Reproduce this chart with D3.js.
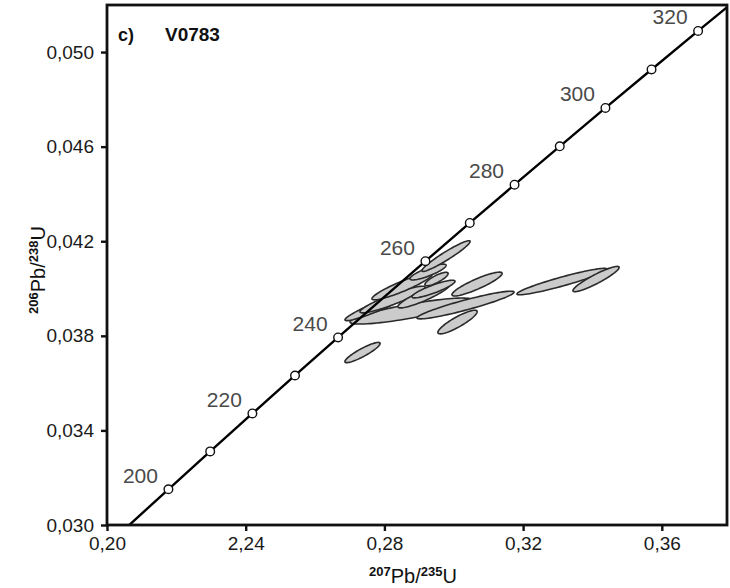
<!DOCTYPE html>
<html>
<head>
<meta charset="utf-8">
<script src="https://cdn.jsdelivr.net/npm/d3@7"></script>
<style>
  html, body { margin: 0; padding: 0; background: #fff; }
  svg { display: block; font-family: "Liberation Sans", Arial, sans-serif; }
</style>
</head>
<body>
<svg id="chart" width="730" height="588"></svg>
<script>
// ---- data ----
const xTicks = [0.20, 0.24, 0.28, 0.32, 0.36];
const xTickLabels = ["0,20", "2,24", "0,28", "0,32", "0,36"];
const yTicks = [0.030, 0.034, 0.038, 0.042, 0.046, 0.050];
const yTickLabels = ["0,030", "0,034", "0,038", "0,042", "0,046", "0,050"];

// concordia (ages in Ma and the matching ratios)
const concAges = [190, 200, 210, 220, 230, 240, 250, 260, 270, 280, 290, 300, 310, 320, 330];
const concX = [0.20578, 0.21771, 0.22976, 0.24193, 0.25422, 0.26664, 0.27917, 0.29183, 0.30462, 0.31753, 0.33057, 0.34374, 0.35704, 0.37047, 0.38403];
const concY = [0.029913, 0.031511, 0.033113, 0.034717, 0.036323, 0.037932, 0.039543, 0.041157, 0.042773, 0.044392, 0.046014, 0.047638, 0.049264, 0.050893, 0.052524];
const hiddenMarkerAges = [250];
const markerAges = [200, 210, 220, 230, 240, 260, 270, 280, 290, 300, 310, 320];
const labelAges = [200, 220, 240, 260, 280, 300, 320];

// analyses: 207Pb/235U, 206Pb/238U, 2s errors and error correlation
const ellX   = [0.28767, 0.30339, 0.27830, 0.28234, 0.28508, 0.29142, 0.29416, 0.29258, 0.29503, 0.29777, 0.30671, 0.30108, 0.27369, 0.33122, 0.34103];
const ellY   = [0.039048, 0.039302, 0.039259, 0.039534, 0.040084, 0.039703, 0.039978, 0.040697, 0.040401, 0.041373, 0.040189, 0.038583, 0.037293, 0.040295, 0.040401];
const ellSX  = [0.017595, 0.013993, 0.009673, 0.009387, 0.008669, 0.007521, 0.006215, 0.005209, 0.003348, 0.006948, 0.007233, 0.005667, 0.005076, 0.012984, 0.006659];
const ellSY  = [0.000549, 0.000586, 0.000617, 0.000564, 0.000563, 0.000523, 0.000373, 0.000335, 0.000285, 0.000650, 0.000504, 0.000500, 0.000428, 0.000559, 0.000535];
const ellRho = [0.836, 0.928, 0.943, 0.916, 0.914, 0.897, 0.877, 0.842, 0.816, 0.952, 0.890, 0.877, 0.895, 0.936, 0.917];

// ---- drawing ----
const svg = d3.select("#chart");
const pL = 107, pR = 727, pT = 5, pB = 525;
const x = d3.scaleLinear().domain([0.20, 0.3788]).range([pL, pR]);
const y = d3.scaleLinear().domain([0.030, 0.05199]).range([pB, pT]);

svg.append("defs").append("clipPath").attr("id", "clip")
  .append("rect").attr("x", pL).attr("y", pT)
  .attr("width", pR - pL).attr("height", pB - pT);

const plot = svg.append("g").attr("clip-path", "url(#clip)");

function drawMarkers(ages) {
  ages.forEach(a => {
    const i = concAges.indexOf(a);
    plot.append("circle").attr("cx", x(concX[i])).attr("cy", y(concY[i])).attr("r", 4.3)
      .attr("fill", "#fff").attr("stroke", "#111").attr("stroke-width", 1.4);
  });
}

// marker covered by the analyses
drawMarkers(hiddenMarkerAges);

// ellipses
const nSeg = 90;
const ellLine = d3.line().x(d => x(d[0])).y(d => y(d[1])).curve(d3.curveLinearClosed);
ellX.forEach((cx, i) => {
  const sx = ellSX[i], sy = ellSY[i], r = ellRho[i], cy = ellY[i];
  const pts = d3.range(nSeg).map(k => {
    const t = 2 * Math.PI * k / nSeg;
    return [cx + sx * Math.cos(t), cy + sy * (r * Math.cos(t) + Math.sqrt(1 - r * r) * Math.sin(t))];
  });
  plot.append("path").attr("d", ellLine(pts))
    .attr("fill", "#cbcbcb").attr("stroke", "#2a2a2a").attr("stroke-width", 1.6);
});

// concordia curve
const concLine = d3.line().x((d, i) => x(concX[i])).y((d, i) => y(concY[i])).curve(d3.curveMonotoneX);
plot.append("path").attr("d", concLine(concAges))
  .attr("fill", "none").attr("stroke", "#000").attr("stroke-width", 2.4);

drawMarkers(markerAges);

// age labels
labelAges.forEach(a => {
  const i = concAges.indexOf(a);
  svg.append("text").attr("x", x(concX[i]) - 28).attr("y", y(concY[i]) - 14)
    .attr("text-anchor", "middle").attr("dominant-baseline", "central")
    .attr("font-size", 21).attr("fill", "#4a4a4a").text(String(a));
});

// axes
const xAxis = d3.axisBottom(x).tickValues(xTicks).tickSize(6).tickPadding(6)
  .tickFormat((d, i) => xTickLabels[i]);
const yAxis = d3.axisLeft(y).tickValues(yTicks).tickSize(6).tickPadding(7)
  .tickFormat((d, i) => yTickLabels[i]);

const gx = svg.append("g").attr("transform", `translate(0,${pB})`).call(xAxis);
const gy = svg.append("g").attr("transform", `translate(${pL},0)`).call(yAxis);
[gx, gy].forEach(g => {
  g.select(".domain").remove();
  g.selectAll(".tick line").attr("stroke", "#111").attr("stroke-width", 2.4);
  g.selectAll(".tick text").attr("font-size", 19).attr("fill", "#1a1a1a")
    .attr("font-family", "'Liberation Sans', Arial, sans-serif");
});

// frame
svg.append("rect").attr("x", pL).attr("y", pT)
  .attr("width", pR - pL).attr("height", pB - pT)
  .attr("fill", "none").attr("stroke", "#111").attr("stroke-width", 2.8);

// panel labels
svg.append("text").attr("x", 118).attr("y", 41).attr("font-size", 18)
  .attr("font-weight", "bold").attr("fill", "#111").text("c)");
svg.append("text").attr("x", 165).attr("y", 41).attr("font-size", 19)
  .attr("font-weight", "bold").attr("fill", "#111").text("V0783");

// axis titles
const xt = svg.append("text").attr("x", 413).attr("y", 583)
  .attr("text-anchor", "middle").attr("font-size", 20).attr("fill", "#111");
xt.append("tspan").attr("font-size", 13).attr("font-weight", "bold").attr("dy", -7).text("207");
xt.append("tspan").attr("dy", 7).text("Pb/");
xt.append("tspan").attr("font-size", 13).attr("font-weight", "bold").attr("dy", -7).text("235");
xt.append("tspan").attr("dy", 7).text("U");

const yt = svg.append("text").attr("transform", "translate(45,270) rotate(-90)")
  .attr("text-anchor", "middle").attr("font-size", 20).attr("fill", "#111");
yt.append("tspan").attr("font-size", 13).attr("font-weight", "bold").attr("dy", -7).text("206");
yt.append("tspan").attr("dy", 7).text("Pb/");
yt.append("tspan").attr("font-size", 13).attr("font-weight", "bold").attr("dy", -7).text("238");
yt.append("tspan").attr("dy", 7).text("U");
</script>
</body>
</html>
